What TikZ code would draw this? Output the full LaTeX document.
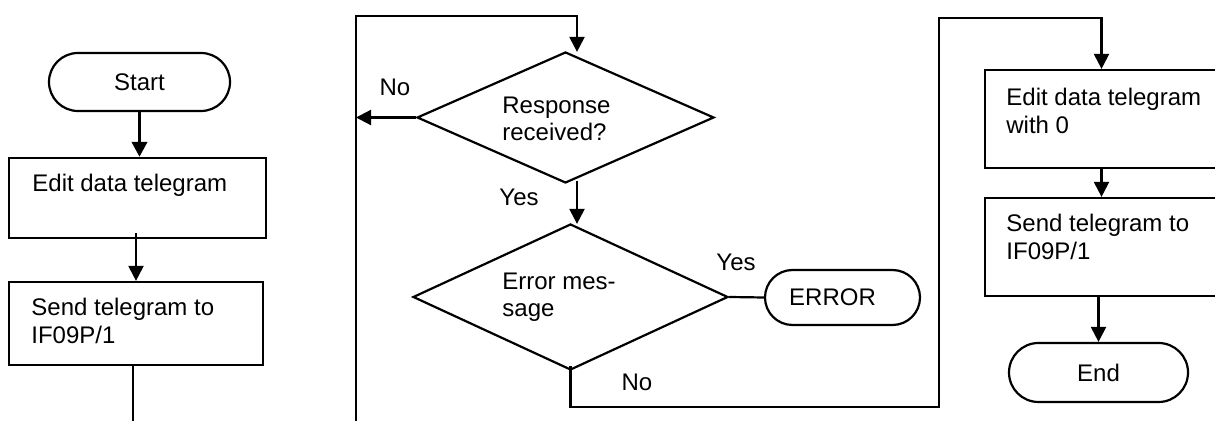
\documentclass[tikz,border=0pt]{standalone}
\usepackage{fontspec}
\setmainfont{Liberation Sans}
\usetikzlibrary{arrows.meta,shapes.geometric,calc}

\tikzset{
  flowline/.style={line width=1.1pt},
  arr/.style={flowline,-{Triangle[length=7.5pt,width=7.5pt]}},
  terminal/.style={draw, flowline, rectangle, inner sep=0pt},
  procbox/.style={draw, flowline, rectangle, inner sep=0pt},
  decision/.style={draw, flowline, diamond, inner sep=0pt},
  txt/.style={align=left, anchor=north west, inner sep=0pt},
  lbl/.style={inner sep=0pt},
}

\begin{document}
\begin{tikzpicture}[x=0.5pt,y=-0.5pt,
  every node/.style={font=\fontsize{12}{14}\selectfont}]
\useasboundingbox (0,0) rectangle (1215,421);

% ---- left column: start, edit, send ----
\node[terminal, rounded corners=14.5pt, minimum width=90.5pt, minimum height=29pt] (start) at (139.5,82) {Start};
\node[procbox, minimum width=128.5pt, minimum height=40pt] (edit) at (137.5,198) {};
\node[txt] (editT) at (32,174) {Edit data telegram};
\node[procbox, minimum width=127pt, minimum height=41.5pt] (send) at (136,323.5) {};
\node[txt] (sendT) at (31,298) {Send telegram to\\IF09P/1};
\coordinate (leftEnd) at (133,421);

\draw[arr, line width=1.8pt] (start.south) -- (start.south |- edit.north);
\draw[arr] ($(send.north |- edit.south)+(0,-6)$) -- (send.north);
\draw[flowline] (send.south -| leftEnd) -- (leftEnd);

% ---- middle: decisions ----
\node[decision, minimum width=148.5pt, minimum height=65.5pt] (dia1) at (565.5,117.5) {};
\node[txt, font=\fontsize{12}{13.2}\selectfont] (dia1T) at (502,97) {Response\\received?};
\node[decision, minimum width=157.5pt, minimum height=73pt] (dia2) at (570.5,297) {};
\node[txt, font=\fontsize{12}{13.5}\selectfont] (dia2T) at (502,273) {Error mes-\\sage};
\node[terminal, rounded corners=13.75pt, minimum width=77.5pt, minimum height=27.5pt] (err) at (842.5,297.5) {ERROR\hspace*{10pt}};

\node[lbl] (noA) at (395,87) {No};
\node[lbl] (yesA) at (519,197) {Yes};
\node[lbl] (yesB) at (736,262) {Yes};
\node[lbl] (noB) at (637,382) {No};

% return loop on the left of the decisions
\coordinate (loopBot) at (356,421);
\coordinate (loopTop) at (356,16);
\draw[arr] (loopBot) -- (loopTop) -| ($(dia1.north)+(11.5,1)$);
\draw[arr] (dia1.west) -- (dia1.west -| loopBot);
\draw[arr] ($(dia1.south)+(11.5,-3)$) -- ($(dia2.north)+(6.5,1)$);
\draw[flowline] (dia2.east) -- (err.west);

% ---- right column: edit with 0, send, end ----
\node[procbox, minimum width=116.5pt, minimum height=49pt] (edit0) at (1101.5,119) {};
\node[txt] (edit0T) at (1006,88) {Edit data telegram\\with 0};
\node[procbox, minimum width=116.5pt, minimum height=49pt] (send0) at (1101.5,247) {};
\node[txt] (send0T) at (1006,214) {Send telegram to\\IF09P/1};
\node[terminal, rounded corners=14.75pt, minimum width=89.5pt, minimum height=29.5pt] (stop) at (1098.5,372.5) {End};

\coordinate (rLoopBot) at (939,407);
\coordinate (rLoopTop) at (939,18);
\draw[arr] ($(dia2.south)+(0,-5)$) |- (rLoopBot) -- (rLoopTop) -| (edit0.north);
\draw[arr] (edit0.south) -- (send0.north);
\draw[arr] (stop.north |- send0.south) -- (stop.north);
\end{tikzpicture}
\end{document}
